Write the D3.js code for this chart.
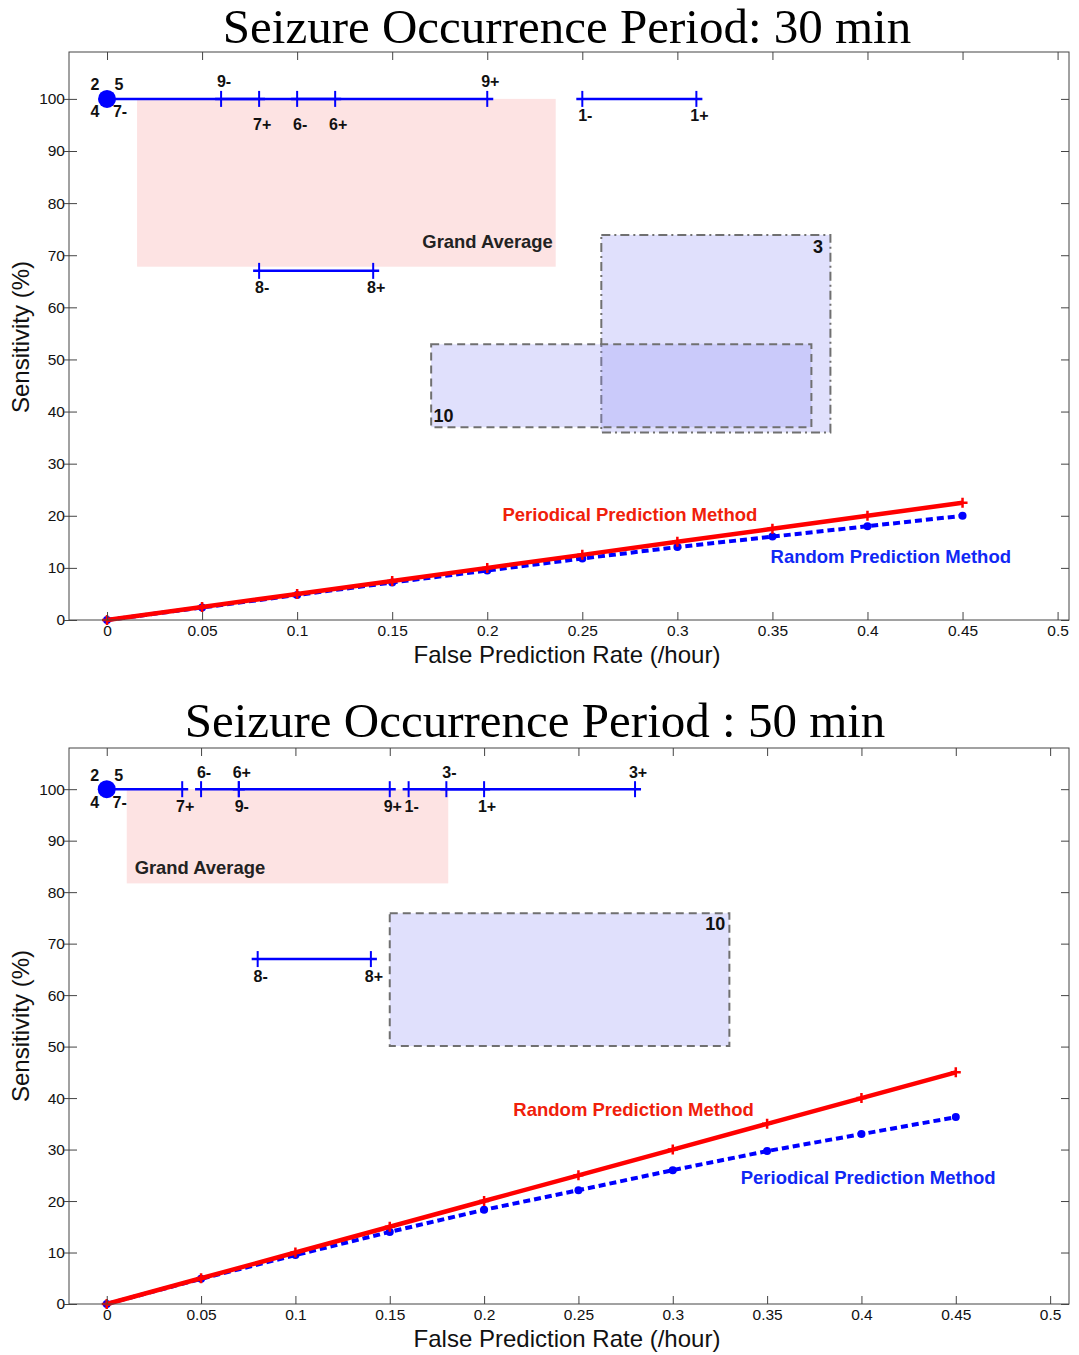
<!DOCTYPE html>
<html lang="en">
  <head>
    <meta charset="utf-8" />
    <title>seizure prediction sensitivity</title>
    <script type="text/javascript" src="https://d3js.org/d3.v7.min.js"></script>
    <style>
      body { margin: 0; background: #fff; }
    </style>
  </head>
  <body>
    <div id="graph"></div>

    <script type="text/javascript">
      /********************************
       * data
       ********************************/

      const fpr = [0, 0.05, 0.1, 0.15, 0.2, 0.25, 0.3, 0.35, 0.4, 0.45];
      const xTicks = [0, 0.05, 0.1, 0.15, 0.2, 0.25, 0.3, 0.35, 0.4, 0.45, 0.5];
      const yTicks = [0, 10, 20, 30, 40, 50, 60, 70, 80, 90, 100];

      // 30 min panel
      const red30 = [0, 2.5, 5, 7.5, 10, 12.5, 15, 17.5, 20, 22.5];
      const blue30 = [0, 2.4, 4.8, 7.2, 9.5, 11.8, 14.0, 16.0, 18.0, 20.0];
      const lineNames30 = ["Periodical Prediction Method", "Random Prediction Method"];
      const lineLabelPos30 = [[0.208, 20.3], [0.349, 12.1]];
      // horizontal error bars: patient, lower, upper, sensitivity
      const bars30 = [
        ["7", 0, 0.08, 100],
        ["9", 0.06, 0.2, 100],
        ["6", 0.1, 0.12, 100],
        ["1", 0.25, 0.31, 100],
        ["8", 0.08, 0.14, 67],
      ];
      // bar end labels: text, x, y, side
      const barLabels30 = [
        ["2", 0, 100, "ul"], ["5", 0, 100, "ur"], ["4", 0, 100, "ll"], ["7-", 0, 100, "lr"],
        ["9-", 0.06, 100, "up"], ["9+", 0.2, 100, "up"],
        ["7+", 0.08, 100, "low"], ["6-", 0.1, 100, "low"], ["6+", 0.12, 100, "low"],
        ["1-", 0.25, 100, "down"], ["1+", 0.31, 100, "down"],
        ["8-", 0.08, 67, "down"], ["8+", 0.14, 67, "down"],
      ];
      // grand average: x0, x1, y0, y1
      const grand30 = [0.0158, 0.236, 67.8, 100];
      const grandText30 = [0.2345, 72.6, "end"];
      // patient boxes: patient, x0, x1, y0, y1, border, label x, label y
      const boxes30 = [
        ["3", 0.26, 0.3805, 36.0, 73.9, "dashdot", 0.374, 71.6],
        ["10", 0.1705, 0.3705, 37.0, 52.9, "dash", 0.177, 39.3],
      ];

      // 50 min panel
      const red50 = [0, 5, 10, 15, 20, 25, 30, 35, 40, 45];
      const blue50 = [0, 4.9, 9.5, 14.0, 18.3, 22.1, 26.0, 29.7, 33.0, 36.3];
      const lineNames50 = ["Random Prediction Method", "Periodical Prediction Method"];
      const lineLabelPos50 = [[0.2155, 37.7], [0.336, 24.5]];
      const bars50 = [
        ["7", 0, 0.04, 100],
        ["6", 0.05, 0.07, 100],
        ["9", 0.07, 0.15, 100],
        ["1", 0.16, 0.2, 100],
        ["3", 0.18, 0.28, 100],
        ["8", 0.08, 0.14, 67],
      ];
      const barLabels50 = [
        ["2", 0, 100, "ul"], ["5", 0, 100, "ur"], ["4", 0, 100, "ll"], ["7-", 0, 100, "lr"],
        ["7+", 0.04, 100, "down"], ["6-", 0.05, 100, "up"], ["6+", 0.07, 100, "up"],
        ["9-", 0.07, 100, "down"], ["9+", 0.15, 100, "down"], ["1-", 0.16, 100, "down"],
        ["3-", 0.18, 100, "up"], ["1+", 0.2, 100, "down"], ["3+", 0.28, 100, "up"],
        ["8-", 0.08, 67, "down"], ["8+", 0.14, 67, "down"],
      ];
      const grand50 = [0.0106, 0.181, 81.7, 100];
      const grandText50 = [0.0148, 84.7, "start"];
      const boxes50 = [["10", 0.15, 0.33, 50.1, 75.9, "dash", 0.3225, 73.8]];

      /***************************
       * create svg
       **************************/

      const width = 1079;
      const height = 1355;

      const svg = d3
        .select("div#graph")
        .append("svg")
        .attr("width", width)
        .attr("height", height);

      const RED = "#ff0000";
      const BLUE = "#0000ff";
      const AXIS = "#444";
      const labelFont = "'Liberation Sans', Arial, sans-serif";

      function drawPanel(p) {
        const x = d3.scaleLinear().domain(p.xDomain).range([69, 1069]);
        const y = d3.scaleLinear().domain(p.yDomain).range([p.bottom, p.top]);
        const g = svg.append("g");

        // title
        g.append("text")
          .attr("x", p.titleX)
          .attr("y", p.titleY)
          .attr("text-anchor", "middle")
          .attr("font-family", "'Liberation Serif', 'Times New Roman', serif")
          .attr("font-size", 49)
          .text(p.title);

        // grand average patch
        g.append("rect")
          .attr("x", x(p.grand[0]))
          .attr("y", y(p.grand[3]))
          .attr("width", x(p.grand[1]) - x(p.grand[0]))
          .attr("height", y(p.grand[2]) - y(p.grand[3]))
          .attr("fill", "#fde3e3");

        g.append("text")
          .attr("x", x(p.grandText[0]))
          .attr("y", y(p.grandText[1]))
          .attr("dy", "0.35em")
          .attr("text-anchor", p.grandText[2])
          .attr("font-family", labelFont)
          .attr("font-weight", "bold")
          .attr("font-size", 18.4)
          .attr("fill", "#222")
          .text("Grand Average");

        // patient boxes (translucent)
        p.boxes.forEach((b) => {
          g.append("rect")
            .attr("x", x(b[1]))
            .attr("y", y(b[4]))
            .attr("width", x(b[2]) - x(b[1]))
            .attr("height", y(b[3]) - y(b[4]))
            .attr("fill", "#9494f5")
            .attr("fill-opacity", 0.29)
            .attr("stroke", "#707070")
            .attr("stroke-width", 2)
            .attr("stroke-dasharray", b[5] === "dash" ? "8,5" : "9,4,2,4");
          g.append("text")
            .attr("x", x(b[6]))
            .attr("y", y(b[7]))
            .attr("dy", "0.35em")
            .attr("text-anchor", "middle")
            .attr("font-family", labelFont)
            .attr("font-weight", "bold")
            .attr("font-size", 18)
            .attr("fill", "#111")
            .text(b[0]);
        });

        // error bars
        p.bars.forEach((b) => {
          g.append("line")
            .attr("x1", x(b[1]) - 6)
            .attr("x2", x(b[2]) + 6)
            .attr("y1", y(b[3]))
            .attr("y2", y(b[3]))
            .attr("stroke", BLUE)
            .attr("stroke-width", 2.5);
          [b[1], b[2]].forEach((v) => {
            if (v === 0) return;
            g.append("line")
              .attr("x1", x(v))
              .attr("x2", x(v))
              .attr("y1", y(b[3]) - 8)
              .attr("y2", y(b[3]) + 8)
              .attr("stroke", BLUE)
              .attr("stroke-width", 2);
          });
        });

        // patients 2, 4, 5 at perfect sensitivity
        g.append("circle")
          .attr("cx", x(0))
          .attr("cy", y(100))
          .attr("r", 9)
          .attr("fill", BLUE);

        const offsets = {
          up: [3, -17], down: [3, 17], low: [3, 26],
          ul: [-12, -14], ur: [12, -14], ll: [-12, 13], lr: [13, 13],
        };
        p.barLabels.forEach((l) => {
          const o = offsets[l[3]];
          g.append("text")
            .attr("x", x(l[1]) + o[0])
            .attr("y", y(l[2]) + o[1])
            .attr("dy", "0.35em")
            .attr("text-anchor", "middle")
            .attr("font-family", labelFont)
            .attr("font-weight", "bold")
            .attr("font-size", 16)
            .attr("fill", "#111")
            .text(l[0]);
        });

        // prediction lines
        const line = d3
          .line()
          .x((d, i) => x(fpr[i]))
          .y((d) => y(d));

        g.append("path")
          .datum(p.blue)
          .attr("d", line)
          .attr("fill", "none")
          .attr("stroke", BLUE)
          .attr("stroke-width", 4)
          .attr("stroke-dasharray", "7,4");
        g.selectAll("circle.bm")
          .data(p.blue)
          .enter()
          .append("circle")
          .attr("class", "bm")
          .attr("cx", (d, i) => x(fpr[i]))
          .attr("cy", (d) => y(d))
          .attr("r", 4)
          .attr("fill", BLUE);

        g.append("path")
          .datum(p.red)
          .attr("d", line)
          .attr("fill", "none")
          .attr("stroke", RED)
          .attr("stroke-width", 4.5);
        g.selectAll("path.rm")
          .data(p.red)
          .enter()
          .append("path")
          .attr("class", "rm")
          .attr("d", (d, i) => {
            const cx = x(fpr[i]);
            const cy = y(d);
            return `M${cx - 5},${cy}H${cx + 5}M${cx},${cy - 5}V${cy + 5}`;
          })
          .attr("stroke", RED)
          .attr("stroke-width", 2.5);

        // line labels
        [RED, BLUE].forEach((c, i) => {
          g.append("text")
            .attr("x", x(p.labelPos[i][0]))
            .attr("y", y(p.labelPos[i][1]))
            .attr("dy", "0.35em")
            .attr("font-family", labelFont)
            .attr("font-weight", "bold")
            .attr("font-size", 18.5)
            .attr("fill", c === RED ? "#f0200a" : "#1028f5")
            .text(p.names[i]);
        });

        // axes box with inward ticks
        g.append("rect")
          .attr("x", 69)
          .attr("y", p.top)
          .attr("width", 1000)
          .attr("height", p.bottom - p.top)
          .attr("fill", "none")
          .attr("stroke", AXIS)
          .attr("stroke-width", 1);

        const axisX = d3.axisBottom(x).tickValues(xTicks).tickSizeInner(-8).tickSizeOuter(0).tickPadding(5).tickFormat(d3.format("~g"));
        const axisXTop = d3.axisTop(x).tickValues(xTicks).tickSizeInner(-8).tickSizeOuter(0).tickFormat("");
        const axisY = d3.axisLeft(y).tickValues(yTicks).tickSizeInner(-8).tickSizeOuter(0).tickPadding(4);
        const axisYRight = d3.axisRight(y).tickValues(yTicks).tickSizeInner(-8).tickSizeOuter(0).tickFormat("");

        g.append("g").attr("transform", `translate(0,${p.bottom})`).call(axisX);
        g.append("g").attr("transform", `translate(0,${p.top})`).call(axisXTop);
        const gy = g.append("g").attr("transform", "translate(69,0)").call(axisY);
        g.append("g").attr("transform", "translate(1069,0)").call(axisYRight);

        g.selectAll(".domain").remove();
        g.selectAll(".tick line").attr("stroke", AXIS);
        // outward stubs on the left like matlab
        gy.selectAll(".tick")
          .append("line")
          .attr("x1", -5)
          .attr("x2", 0)
          .attr("stroke", AXIS);
        g.selectAll(".tick text")
          .attr("font-family", labelFont)
          .attr("font-size", 15.5)
          .attr("fill", "#111");

        // axis labels
        g.append("text")
          .attr("x", 567)
          .attr("y", p.bottom + 43)
          .attr("text-anchor", "middle")
          .attr("font-family", labelFont)
          .attr("font-size", 24)
          .attr("fill", "#111")
          .text("False Prediction Rate (/hour)");

        g.append("text")
          .attr("transform", `translate(29,${p.ylabelY}) rotate(-90)`)
          .attr("text-anchor", "middle")
          .attr("font-family", labelFont)
          .attr("font-size", 24)
          .attr("fill", "#111")
          .text("Sensitivity (%)");
      }

      drawPanel({
        title: "Seizure Occurrence Period: 30 min",
        titleX: 567,
        titleY: 43,
        top: 52,
        bottom: 620,
        xDomain: [-0.02, 0.506],
        yDomain: [0, 109],
        ylabelY: 337,
        red: red30,
        blue: blue30,
        names: lineNames30,
        labelPos: lineLabelPos30,
        bars: bars30,
        barLabels: barLabels30,
        grand: grand30,
        grandText: grandText30,
        boxes: boxes30,
      });

      drawPanel({
        title: "Seizure Occurrence Period : 50 min",
        titleX: 535,
        titleY: 737,
        top: 748,
        bottom: 1304,
        xDomain: [-0.02, 0.51],
        yDomain: [0, 108],
        ylabelY: 1026,
        red: red50,
        blue: blue50,
        names: lineNames50,
        labelPos: lineLabelPos50,
        bars: bars50,
        barLabels: barLabels50,
        grand: grand50,
        grandText: grandText50,
        boxes: boxes50,
      });
    </script>
  </body>
</html>
